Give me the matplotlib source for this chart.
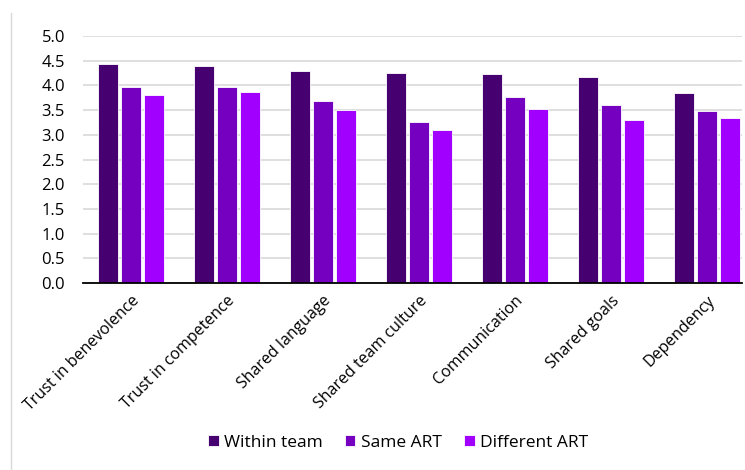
import matplotlib.pyplot as plt
import numpy as np
from matplotlib.lines import Line2D

categories = ['Trust in benevolence', 'Trust in competence', 'Shared language',
              'Shared team culture', 'Communication', 'Shared goals', 'Dependency']
series = ['Within team', 'Same ART', 'Different ART']
within_team = [4.43, 4.40, 4.29, 4.25, 4.23, 4.17, 3.85]
same_art = [3.96, 3.97, 3.69, 3.25, 3.77, 3.61, 3.48]
different_art = [3.81, 3.87, 3.50, 3.09, 3.53, 3.29, 3.34]
colors = ['#46006F', '#7500C0', '#A100FF']

plt.rcParams['font.family'] = ['Open Sans', 'DejaVu Sans']

fig = plt.figure(figsize=(7.45, 4.70), dpi=100)
ax = fig.add_axes([83/745, 1-283/470, (742-83)/745, (283-36)/470])

x = np.arange(len(categories))
w = 0.21
step = 0.24
for i, (vals, name) in enumerate(zip([within_team, same_art, different_art], series)):
    ax.bar(x + (i-1)*step, vals, width=w, color=colors[i], label=name,
           edgecolor='white', linewidth=0.6, zorder=3)

ax.set_ylim(0, 5.0)
ax.set_xlim(-0.5, 6.365)
ax.set_yticks(np.arange(0, 5.01, 0.5))
ax.set_yticklabels([f'{v:.1f}' for v in np.arange(0, 5.01, 0.5)])
ax.set_xticks(x)
ax.set_xticklabels(categories, rotation=45, ha='right', rotation_mode='anchor')
ax.tick_params(axis='both', length=0, labelsize=12, colors='#000000')
ax.tick_params(axis='x', labelsize=11.5)
ax.tick_params(axis='y', pad=13)
ax.tick_params(axis='x', pad=7)
ax.grid(axis='y', color='#D9D9D9', linewidth=1.2, zorder=0)
for s in ['top', 'right', 'left']:
    ax.spines[s].set_visible(False)
ax.spines['bottom'].set_color('#000000')
ax.spines['bottom'].set_linewidth(1.3)
ax.spines['bottom'].set_zorder(4)

fig.legend(loc='center', bbox_to_anchor=(398/745, 1-443/470), ncol=3, frameon=False,
           fontsize=12.5, handlelength=0.6, handleheight=0.6, handletextpad=0.3,
           columnspacing=1.3)

fig.add_artist(Line2D([11/745, 11/745], [0, 1-13/470], color='#D9D9D9', linewidth=1))

fig.savefig('out.png', dpi=100)
